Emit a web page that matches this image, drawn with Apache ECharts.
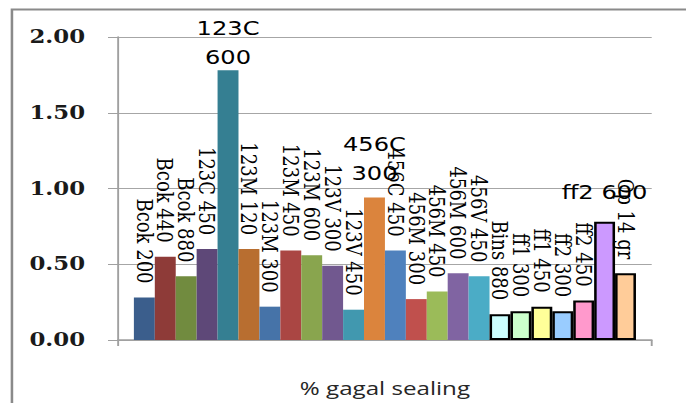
<!DOCTYPE html>
<html>
<head>
<meta charset="utf-8">
<script src="https://cdn.jsdelivr.net/npm/echarts@6/dist/echarts.min.js"></script>
<style>
  html, body { margin: 0; padding: 0; background: #fff; overflow: hidden; }
  /* the chart is laid out narrow and widened to the page, like the stretched workbook chart */
  #chart { width: 540px; height: 403px; transform: scaleX(1.2704); transform-origin: 0 0; }
</style>
</head>
<body>
<div id="chart"></div>
<script>
// sample names (one bar each)
const samples = [
  'Bcok 200', 'Bcok 440', 'Bcok 880', '123C 450', '123C 600', '123M 120',
  '123M 300', '123M 450', '123M 600', '123V 300', '123V 450', '456C 300',
  '456C 450', '456M 300', '456M 450', '456M 600', '456V 450', 'Bins 880',
  'ff1 300', 'ff1 450', 'ff2 300', 'ff2 450', 'ff2 600', 'Op 14 gr'
];
// % gagal sealing per sample
const failRate = [
  0.28, 0.55, 0.42, 0.60, 1.78, 0.60,
  0.22, 0.59, 0.56, 0.49, 0.20, 0.94,
  0.59, 0.27, 0.32, 0.44, 0.42, 0.17,
  0.19, 0.22, 0.19, 0.26, 0.78, 0.44
];
const yTicks = [0, 0.5, 1.0, 1.5, 2.0];

// bar fills
const palette = [
  '#3b5e8c', '#8e3b38', '#718b3f', '#5e4878', '#357f92', '#b86e30',
  '#4673a8', '#aa4643', '#89a54e', '#71588f', '#4198af', '#db843d',
  '#4f81bd', '#c0504d', '#9bbb59', '#8064a2', '#4bacc6', '#ccffff',
  '#ccffcc', '#ffff99', '#99ccff', '#ff99cc', '#cc99ff', '#ffcc99'
];
const firstOutlined = 17;           // from 'Bins 880' on, bars carry a black outline
// labels drawn level instead of vertical: [split into two lines, offset, distance]
const levelLabels = { 4: [true, [-1, 0], -2], 11: [true, [-5, 0], 10], 22: [false, [-2, 0], 15] };

const rotatedFont = { fontFamily: 'DejaVu Serif', fontSize: 18, color: '#000' };
const levelFont = { fontFamily: 'DejaVu Sans', fontSize: 19, color: '#000', lineHeight: 29 };

const series = samples.map(function (name, i) {
  const outlined = i >= firstOutlined;
  const level = levelLabels[i];
  let label;
  if (level) {
    label = Object.assign({
      show: true, position: 'top', rotate: 0, align: 'center', verticalAlign: 'bottom',
      offset: level[1], distance: level[2],
      formatter: level[0] ? name.split(' ').join('\n') : name
    }, levelFont);
  } else {
    label = Object.assign({
      show: true, position: 'top', rotate: -90, align: 'right', verticalAlign: 'middle',
      distance: 14, formatter: name
    }, rotatedFont);
  }
  return {
    type: 'bar',
    name: name,
    data: [failRate[i]],
    barGap: 0,
    barCategoryGap: '5.9%',
    itemStyle: {
      color: palette[i],
      borderColor: outlined ? '#000' : palette[i],
      borderWidth: outlined ? 2 : 0
    },
    label: label,
    labelLayout: { hideOverlap: false },
    emphasis: { disabled: true },
    z: 2
  };
});

const chart = echarts.init(document.getElementById('chart'), null, { renderer: 'svg' });
chart.setOption({
  animation: false,
  backgroundColor: '#fff',
  graphic: [{
    type: 'rect', silent: true, z: 0,
    shape: { x: 9.4, y: 9.5, width: 700, height: 500 },
    style: { fill: null, stroke: '#8a8a8a', lineWidth: 2 }
  }],
  grid: { left: 93, right: 27, top: 37, bottom: 63 },
  xAxis: {
    type: 'category',
    data: [''],
    name: '% gagal sealing',
    nameLocation: 'middle',
    nameGap: 38,
    nameTextStyle: { fontFamily: 'Open Sans', fontSize: 19, color: '#262626' },
    axisLine: { lineStyle: { color: '#a0a0a0', width: 1.5 } },
    axisTick: { show: true, length: 6, alignWithLabel: false, lineStyle: { color: '#a0a0a0', width: 1.5 } },
    axisLabel: { show: false }
  },
  yAxis: {
    type: 'value',
    min: yTicks[0],
    max: yTicks[yTicks.length - 1],
    interval: yTicks[1] - yTicks[0],
    axisLine: { show: true, lineStyle: { color: '#a0a0a0', width: 1.5 } },
    axisTick: { show: true, length: 8, lineStyle: { color: '#a0a0a0' } },
    splitLine: { lineStyle: { color: '#a6a6a6', width: 1 } },
    axisLabel: {
      formatter: function (v) { return v.toFixed(2); },
      fontFamily: 'DejaVu Serif', fontWeight: 'bold', fontSize: 18, color: '#1a1a1a', margin: 26
    }
  },
  series: series
});
</script>
</body>
</html>
